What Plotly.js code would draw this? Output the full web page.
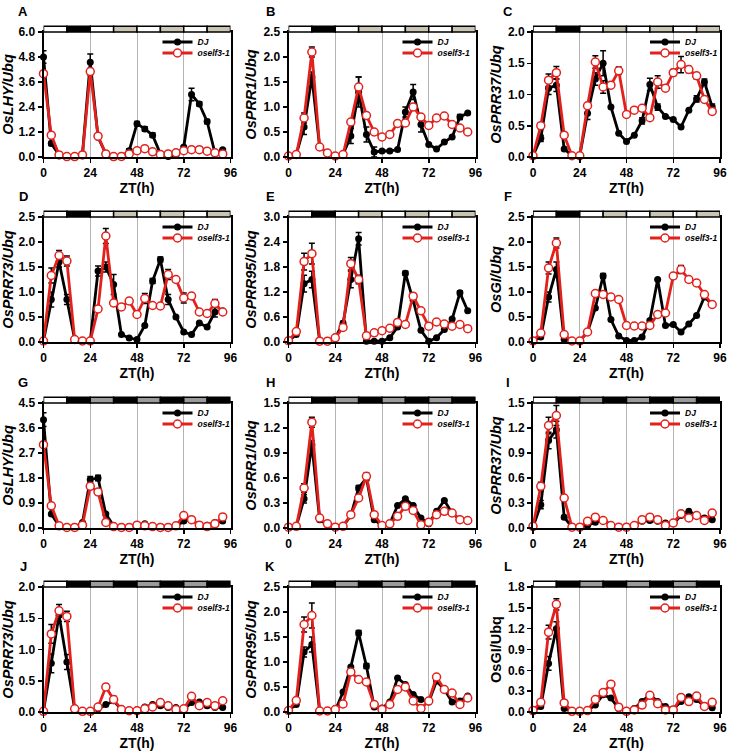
<!DOCTYPE html>
<html><head><meta charset="utf-8">
<script src="https://cdn.plot.ly/plotly-3.0.1.min.js"></script>
<style>html,body{margin:0;padding:0;background:#fff}</style>
</head><body><div id="chart" style="width:730px;height:751px"></div>
<script>
// Time points (ZT, h)
const ZT = [0,4,8,12,16,20,24,28,32,36,40,44,48,52,56,60,64,68,72,76,80,84,88,92];

// Panel titles (y-axis labels)
const panelLetters = ['A','B','C','D','E','F','G','H','I','J','K','L'];
const geneLabels = ['OsLHY/Ubq','OsPRR1/Ubq','OsPRR37/Ubq','OsPRR73/Ubq','OsPRR95/Ubq','OsGI/Ubq',
                    'OsLHY/Ubq','OsPRR1/Ubq','OsPRR37/Ubq','OsPRR73/Ubq','OsPRR95/Ubq','OsGI/Ubq'];
const yMax  = [6.0,2.5,2.0,2.5,3.0,2.5,4.5,1.5,1.5,2.0,2.5,1.8];
const yStep = [1.2,0.5,0.5,0.5,0.6,0.5,0.9,0.3,0.3,0.5,0.5,0.3];
const seriesNames = ['DJ','oself3-1'];

// Light regimes of the top bar (12 h blocks)
const barBlocks = [0,12,24,36,48,60,72,84,96];
const regimeTop = ['light','dark','light','subj','light','subj','light','subj'];
const regimeBottom = ['light','dark','subjD','dark','subjD','dark','subjD','dark'];

// ---------- A: OsLHY ----------
const A_dj  = [4.8,0.65,0.1,0.02,0.02,0.15,4.55,0.95,0.15,0.02,0.02,0.3,1.6,1.35,1.05,0.15,0.02,0.1,0.48,3.0,2.55,1.7,0.2,0.35];
const A_elf = [4.0,1.05,0.1,0.02,0.02,0.1,4.1,1.0,0.15,0.02,0.03,0.15,0.3,0.4,0.25,0.12,0.15,0.2,0.3,0.35,0.35,0.28,0.2,0.15];
const A_djE = [0.3,0.1,0,0,0,0,0.4,0,0,0,0,0.1,0.1,0.1,0.1,0,0,0,0.05,0.3,0.1,0.1,0,0.05];
const A_elfE= [0.1,0.1,0,0,0,0,0.15,0.05,0,0,0,0,0,0,0,0,0,0,0,0,0,0,0,0];
// ---------- B: OsPRR1 ----------
const B_dj  = [0.02,0.05,0.6,1.6,0.2,0.08,0.02,0.05,0.42,1.3,0.45,0.1,0.12,0.12,0.15,0.9,1.3,0.65,0.25,0.16,0.3,0.4,0.8,0.88];
const B_elf = [0.02,0.05,0.78,2.1,0.2,0.08,0.02,0.05,0.7,1.4,0.83,0.5,0.4,0.45,0.67,0.68,1.0,0.8,0.63,0.78,0.82,0.65,0.58,0.5];
const B_djE = [0,0,0.15,0.1,0,0,0,0,0.15,0.3,0.15,0.1,0,0,0,0.1,0.15,0.15,0,0,0,0,0.05,0];
const B_elfE= [0,0,0.1,0.1,0,0,0,0,0,0.2,0.05,0,0,0,0,0,0,0,0,0,0,0,0,0];
// ---------- C: OsPRR37 ----------
const C_dj  = [0.02,0.3,1.1,1.15,0.13,0.02,0.02,0.7,1.25,1.5,0.8,0.38,0.25,0.35,0.58,1.16,0.8,0.65,0.6,0.48,0.75,0.93,1.2,0.8];
const C_elf = [0.02,0.5,1.23,1.35,0.35,0.02,0.02,0.82,1.52,1.12,1.15,1.38,0.68,0.75,0.78,0.63,1.2,1.1,1.35,1.48,1.4,1.3,0.92,0.73];
const C_djE = [0,0.05,0.1,0.1,0,0,0,0.1,0.1,0.2,0,0,0,0,0.05,0.1,0.05,0,0,0,0,0.05,0.05,0.05];
const C_elfE= [0,0.05,0.1,0.1,0,0,0,0,0.1,0.1,0,0.06,0,0,0,0,0.1,0,0.05,0.13,0.05,0.05,0,0];
// ---------- D: OsPRR73 ----------
const D_dj  = [0.02,0.85,1.6,0.85,0.05,0.02,0.02,1.42,1.5,1.15,0.15,0.08,0.05,0.33,1.22,1.65,0.85,0.5,0.2,0.15,0.38,0.3,0.6,0.62];
const D_elf = [0.02,1.33,1.73,1.62,0.05,0.02,0.02,0.66,2.12,0.78,0.7,0.82,0.55,0.87,0.73,0.72,1.35,1.25,0.88,0.92,0.6,0.57,0.77,0.6];
const D_djE = [0,0.15,0.1,0.1,0,0,0,0.1,0.1,0.2,0,0,0,0,0.05,0.05,0.1,0,0,0,0,0,0.1,0];
const D_elfE= [0,0.15,0.1,0.1,0,0,0,0,0.15,0.05,0,0.05,0,0.1,0,0,0.1,0.05,0.1,0.05,0,0,0.08,0];
// ---------- E: OsPRR95 ----------
const E_dj  = [0.02,0.18,1.4,1.5,0.02,0.02,0.1,0.45,1.5,2.48,0.02,0.02,0.02,0.1,0.36,1.65,1.0,0.28,0.02,0.1,0.3,0.55,1.18,0.75];
const E_elf = [0.03,0.25,1.93,2.12,0.02,0.02,0.1,0.35,1.88,1.5,0.15,0.22,0.27,0.33,0.47,0.42,1.1,0.75,0.38,0.48,0.43,0.38,0.42,0.32];
const E_djE = [0,0,0.2,0.2,0,0,0,0.05,0.2,0.15,0,0,0,0,0,0.05,0.05,0,0,0,0,0,0.05,0];
const E_elfE= [0,0,0.2,0.25,0,0,0,0,0.15,0.1,0,0,0,0,0,0,0,0,0,0,0,0,0,0];
// ---------- F: OsGI ----------
const F_dj  = [0.02,0.1,0.9,1.45,0.05,0.02,0.02,0.2,0.68,1.32,0.45,0.12,0.03,0.03,0.1,0.43,1.25,0.33,0.35,0.2,0.36,0.53,0.9,0.75];
const F_elf = [0.02,0.18,1.48,1.98,0.15,0.02,0.02,0.2,0.97,0.95,0.9,0.85,0.33,0.32,0.32,0.33,0.55,0.58,1.32,1.45,1.25,1.18,0.95,0.75];
const F_djE = [0,0,0.1,0.15,0,0,0,0,0,0.05,0,0,0,0,0,0,0,0,0,0,0,0,0,0];
const F_elfE= [0,0,0.12,0.1,0,0,0,0,0,0,0,0,0,0,0,0,0,0,0.05,0.08,0.05,0.05,0,0];
// ---------- G: OsLHY (LL) ----------
const G_dj  = [3.9,0.5,0.08,0.02,0.02,0.2,1.75,1.8,0.5,0.08,0.02,0.02,0.05,0.15,0.05,0.02,0.02,0.05,0.25,0.3,0.1,0.1,0.2,0.25];
const G_elf = [3.0,0.8,0.08,0.02,0.02,0.1,1.5,1.3,0.2,0.05,0.02,0.02,0.1,0.08,0.05,0.02,0.02,0.08,0.45,0.3,0.1,0.05,0.15,0.4];
const G_djE = [0.25,0,0,0,0,0,0.1,0.1,0.05,0,0,0,0,0,0,0,0,0,0,0,0,0,0,0];
const G_elfE= [0.05,0.05,0,0,0,0,0.1,0.1,0,0,0,0,0,0,0,0,0,0,0,0,0,0,0,0];
// ---------- H: OsPRR1 (LL) ----------
const H_dj  = [0.01,0.02,0.35,1.0,0.1,0.04,0.01,0.02,0.15,0.48,0.6,0.1,0.03,0.05,0.27,0.35,0.27,0.12,0.05,0.2,0.33,0.18,0.1,0.08];
const H_elf = [0.01,0.02,0.48,1.27,0.12,0.05,0.01,0.02,0.16,0.36,0.62,0.16,0.03,0.05,0.14,0.26,0.21,0.04,0.07,0.16,0.2,0.18,0.1,0.09];
const H_djE = [0,0,0.05,0.05,0,0,0,0,0,0.03,0.03,0,0,0,0,0,0,0,0,0,0,0,0,0];
const H_elfE= [0,0,0.05,0.06,0,0,0,0,0,0,0.04,0,0,0,0,0,0,0,0,0,0,0,0,0];
// ---------- I: OsPRR37 (LL) ----------
const I_dj  = [0.01,0.28,1.05,1.18,0.13,0.01,0.01,0.03,0.07,0.1,0.04,0.01,0.01,0.04,0.08,0.09,0.08,0.06,0.05,0.15,0.2,0.15,0.12,0.1];
const I_elf = [0.02,0.5,1.23,1.35,0.36,0.01,0.01,0.08,0.13,0.09,0.03,0.01,0.01,0.03,0.1,0.13,0.1,0.03,0.06,0.17,0.12,0.15,0.09,0.18];
const I_djE = [0,0.05,0.1,0.1,0.02,0,0,0,0,0,0,0,0,0,0,0,0,0,0,0,0,0,0,0];
const I_elfE= [0,0.05,0.1,0.12,0,0,0,0,0,0,0,0,0,0,0,0,0,0,0,0,0,0,0,0];
// ---------- J: OsPRR73 (LL) ----------
const J_dj  = [0.01,0.78,1.55,0.8,0.05,0.01,0.01,0.05,0.12,0.18,0.04,0.01,0.03,0.08,0.12,0.1,0.07,0.07,0.04,0.15,0.16,0.1,0.07,0.07];
const J_elf = [0.01,1.25,1.62,1.53,0.05,0.01,0.01,0.08,0.4,0.2,0.04,0.02,0.02,0.05,0.08,0.15,0.1,0.04,0.05,0.25,0.1,0.15,0.1,0.18];
const J_djE = [0,0.15,0.1,0.12,0,0,0,0,0,0,0,0,0,0,0,0,0,0,0,0,0,0,0,0];
const J_elfE= [0,0.15,0.1,0.08,0,0,0,0,0.05,0.05,0,0,0,0,0,0,0,0,0,0,0,0,0,0];
// ---------- K: OsPRR95 (LL) ----------
const K_dj  = [0.03,0.15,1.2,1.35,0.02,0.02,0.03,0.4,0.9,1.58,0.92,0.1,0.08,0.2,0.68,0.55,0.35,0.25,0.2,0.62,0.45,0.2,0.22,0.32];
const K_elf = [0.03,0.23,1.75,1.93,0.02,0.02,0.05,0.16,0.8,0.65,0.6,0.15,0.05,0.15,0.45,0.5,0.22,0.07,0.22,0.7,0.45,0.38,0.15,0.28];
const K_djE = [0,0,0.1,0.15,0,0,0,0,0,0.05,0.05,0,0,0,0,0,0,0,0,0,0,0,0,0];
const K_elfE= [0,0,0.15,0.25,0,0,0,0,0,0,0,0,0,0,0,0,0,0,0,0,0,0,0,0];
// ---------- L: OsGI (LL) ----------
const L_dj  = [0.01,0.08,0.7,1.2,0.05,0.01,0.01,0.02,0.1,0.25,0.2,0.05,0.01,0.05,0.15,0.25,0.15,0.08,0.04,0.15,0.22,0.18,0.08,0.06];
const L_elf = [0.02,0.14,1.15,1.55,0.13,0.01,0.01,0.02,0.18,0.28,0.4,0.07,0.01,0.03,0.1,0.24,0.12,0.03,0.03,0.21,0.15,0.23,0.08,0.14];
const L_djE = [0,0,0.1,0.1,0,0,0,0,0,0,0,0,0,0,0,0,0,0,0,0,0,0,0,0];
const L_elfE= [0,0,0.1,0.08,0,0,0,0,0,0,0,0,0,0,0,0,0,0,0,0,0,0,0,0];

const djSeries  = [A_dj,B_dj,C_dj,D_dj,E_dj,F_dj,G_dj,H_dj,I_dj,J_dj,K_dj,L_dj];
const elfSeries = [A_elf,B_elf,C_elf,D_elf,E_elf,F_elf,G_elf,H_elf,I_elf,J_elf,K_elf,L_elf];
const djErr  = [A_djE,B_djE,C_djE,D_djE,E_djE,F_djE,G_djE,H_djE,I_djE,J_djE,K_djE,L_djE];
const elfErr = [A_elfE,B_elfE,C_elfE,D_elfE,E_elfE,F_elfE,G_elfE,H_elfE,I_elfE,J_elfE,K_elfE,L_elfE];

// ---------- layout geometry (px) ----------
const W = 730, H = 751;
const colL = [43.5, 288.5, 533];
const plotW = 187;
const rowT = [32, 217, 403, 587];
const plotH = 125;
const letterX = [23, 270, 508];
const legendDX = [114, 109, 112];
const legendDY = [10, 21];
const FONT = 'Arial, "Liberation Sans", sans-serif';
const RED = '#e3211c';
const fillFor = {light:'#ffffff', dark:'#000000', subj:'#c9c5b2', subjD:'#9a9a9a'};

const data = [];
const layout = {
  width: W, height: H,
  margin: {l:0, r:0, t:0, b:0},
  paper_bgcolor: '#fff', plot_bgcolor: '#fff',
  showlegend: true,
  font: {family: FONT, color: '#000'},
  shapes: [], annotations: []
};

function legendKey(n) { return n === 1 ? 'legend' : 'legend' + n; }

for (let i = 0; i < 12; i++) {
  const r = Math.floor(i / 3), c = i % 3;
  const sfx = i === 0 ? '' : String(i + 1);
  const xa = 'x' + sfx, ya = 'y' + sfx;
  const x0 = colL[c] / W, x1 = (colL[c] + plotW) / W;
  const y1 = 1 - rowT[r] / H, y0 = 1 - (rowT[r] + plotH) / H;

  layout['xaxis' + sfx] = {
    domain: [x0, x1], anchor: ya, range: [0, 96],
    tickvals: [0, 24, 48, 72, 96], showgrid: true, gridcolor: '#b4b4b4', gridwidth: 1,
    showline: true, linecolor: '#000', linewidth: 2, mirror: true,
    ticks: 'outside', ticklen: 4, tickwidth: 1.5, tickcolor: '#000',
    tickfont: {size: 12, family: FONT, weight: 'bold', color: '#000'},
    zeroline: false,
    title: {text: 'ZT(h)', font: {size: 14, family: FONT, weight: 'bold', color: '#000'}, standoff: 0}
  };
  layout['yaxis' + sfx] = {
    domain: [y0, y1], anchor: xa, range: [0, yMax[i]], dtick: yStep[i], tick0: 0,
    tickformat: '.1f', showgrid: false,
    showline: true, linecolor: '#000', linewidth: 2, mirror: true,
    ticks: 'outside', ticklen: 4, tickwidth: 1.5, tickcolor: '#000',
    tickfont: {size: 12, family: FONT, weight: 'bold', color: '#000'},
    zeroline: false,
    title: {text: geneLabels[i], font: {size: 14.5, family: FONT, weight: 'bold',
            style: i === 11 ? 'normal' : 'italic', color: '#000'}, standoff: 3}
  };

  const series = [djSeries[i], elfSeries[i]];
  const errs = [djErr[i], elfErr[i]];
  for (let s = 0; s < 2; s++) {
    const lg = legendKey(2 * i + s + 1);
    layout[lg] = {
      x: (colL[c] + legendDX[c]) / W, y: 1 - (rowT[r] + legendDY[s]) / H,
      xanchor: 'left', yanchor: 'middle',
      bgcolor: 'rgba(0,0,0,0)', borderwidth: 0,
      font: {size: 8.5, family: FONT, weight: 'bold', style: 'italic', color: '#000'},
      itemwidth: 30
    };
    const isDJ = s === 0;
    data.push({
      type: 'scatter', mode: 'lines+markers', name: seriesNames[s], legend: lg,
      x: ZT, y: series[s], xaxis: xa, yaxis: ya, cliponaxis: false,
      line: {color: isDJ ? '#000' : RED, width: 2.8},
      marker: isDJ
        ? {symbol: 'circle', size: 7, color: '#000', line: {color: '#000', width: 0}}
        : {symbol: 'circle', size: 8, color: '#fff', line: {color: RED, width: 1.5}},
      error_y: {type: 'data', array: errs[s], visible: true, color: '#000', thickness: 1.5, width: 3}
    });
  }

  // light/dark bar on top
  const reg = r < 2 ? regimeTop : regimeBottom;
  for (let k = 0; k < 8; k++) {
    layout.shapes.push({
      type: 'rect', xref: xa, yref: ya + ' domain',
      x0: barBlocks[k], x1: barBlocks[k + 1], y0: 1.0, y1: 1.046,
      fillcolor: fillFor[reg[k]], line: {color: '#000', width: 1.5}, layer: 'above'
    });
  }
  // panel letter
  layout.annotations.push({
    xref: 'paper', yref: 'paper', x: letterX[c] / W, y: 1 - (rowT[r] - 21) / H,
    xanchor: 'center', yanchor: 'middle', showarrow: false,
    text: panelLetters[i], font: {size: 13, family: FONT, weight: 'bold', color: '#000'}
  });
}

Plotly.newPlot('chart', data, layout, {displayModeBar: false, staticPlot: true});
</script></body></html>
